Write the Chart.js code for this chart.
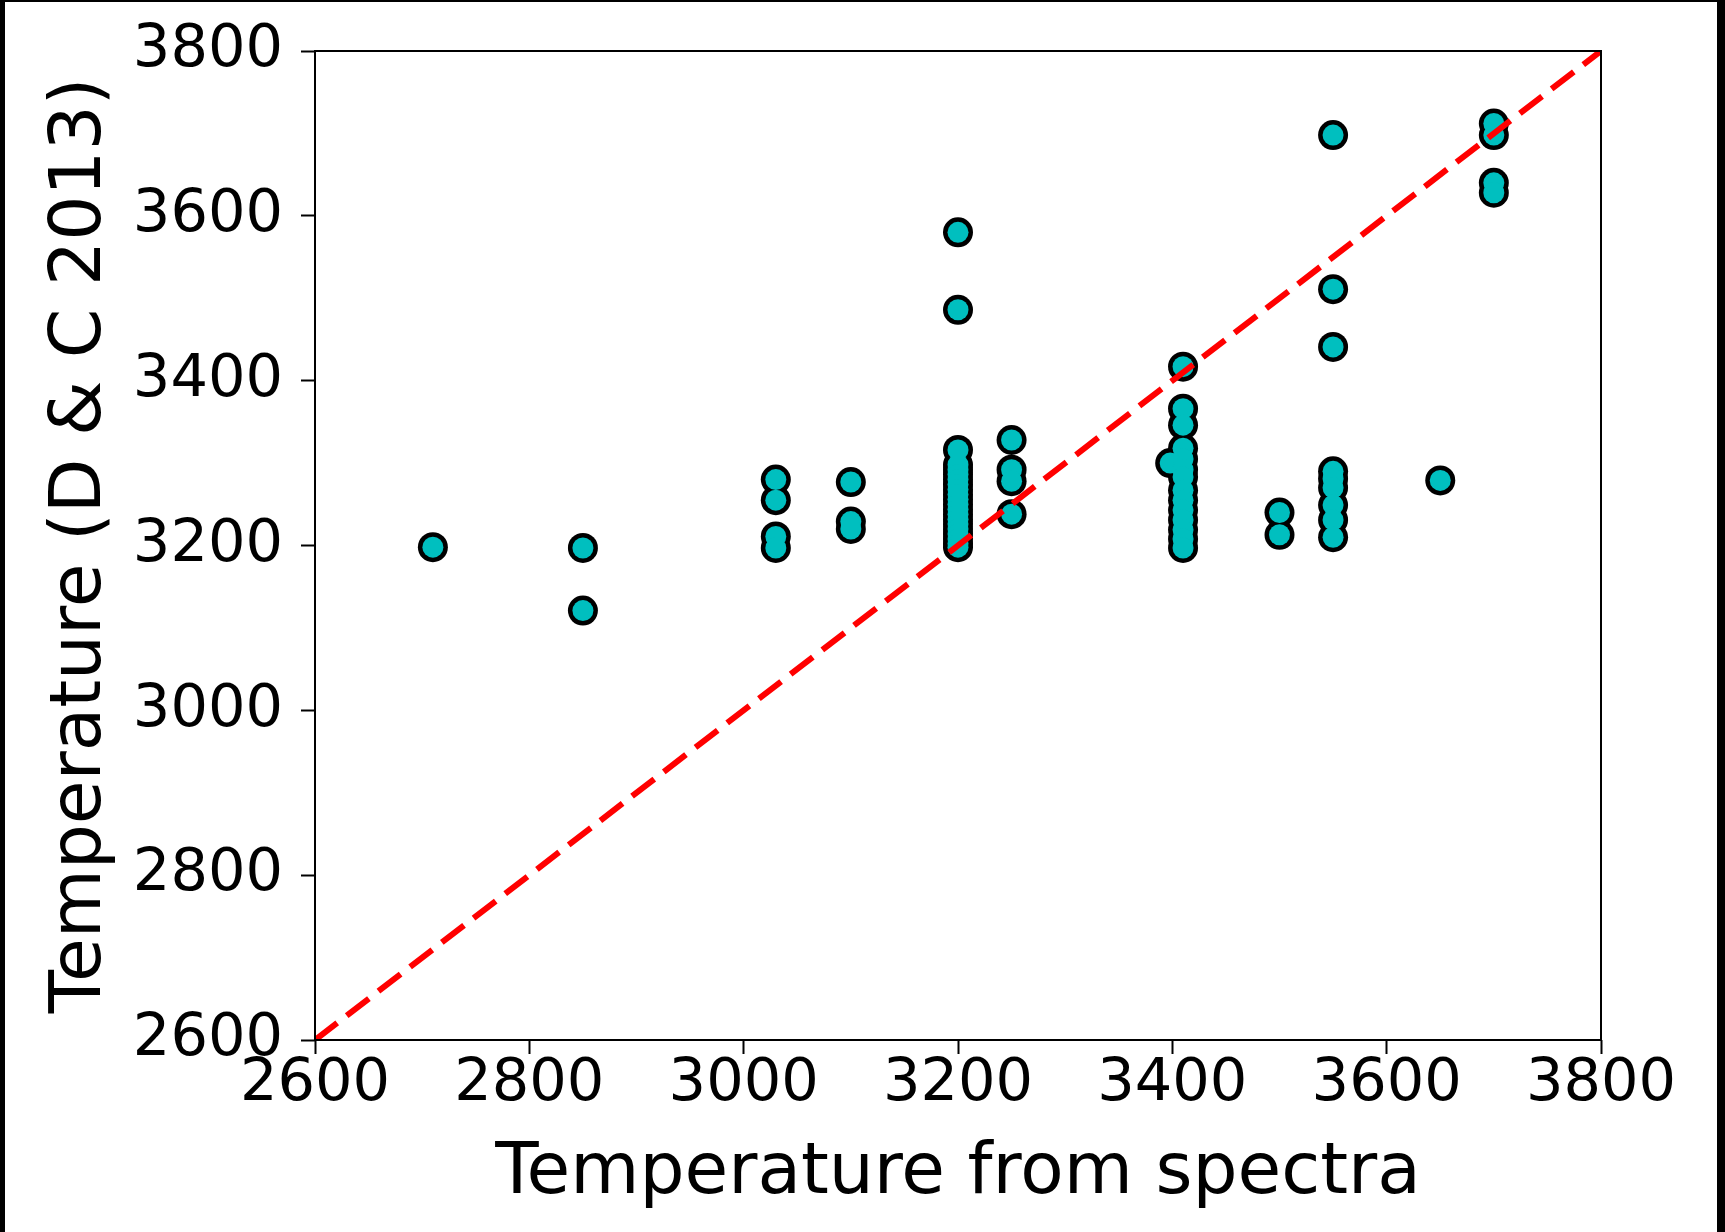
<!DOCTYPE html>
<html lang="en">
<head>
    <meta charset="UTF-8"/>
    <title>Temperature comparison</title>
    <script src="https://cdn.jsdelivr.net/npm/chart.js@4.4.1/dist/chart.umd.min.js"></script>
    <style>
        html, body { margin: 0; padding: 0; background: #000; }
        #wrap { position: absolute; left: 5px; top: 2px; width: 1712px; height: 1230px; background: #fff; }
    </style>
</head>
<body>

<div id="wrap">
    <canvas id="chart"></canvas>
</div>

<script>
    // temperatures, paired by index
    const specTemp = [
        2710,
        2850, 2850,
        3030, 3030, 3030, 3030,
        3100, 3100, 3100,
        3200, 3200,
        3200, 3200, 3200, 3200, 3200, 3200, 3200, 3200, 3200, 3200,
        3200, 3200, 3200, 3200, 3200, 3200, 3200, 3200, 3200,
        3250, 3250, 3250, 3250,
        3398,
        3410, 3410, 3410, 3410, 3410, 3410, 3410, 3410, 3410, 3410, 3410, 3410, 3410, 3410,
        3500, 3500,
        3550, 3550, 3550, 3550, 3550, 3550, 3550, 3550, 3550,
        3650,
        3700, 3700, 3700, 3700
    ];
    const dcTemp = [
        3198,
        3197, 3121,
        3280, 3255, 3211, 3197,
        3277, 3229, 3220,
        3580, 3486,
        3316, 3298, 3292, 3286, 3280, 3274, 3268, 3262, 3256, 3250,
        3244, 3238, 3232, 3226, 3220, 3214, 3208, 3202, 3198,
        3328, 3292, 3278, 3238,
        3300,
        3417, 3366, 3346, 3318, 3305, 3292, 3283, 3267, 3255, 3243, 3231, 3219, 3208, 3197,
        3240, 3213,
        3698, 3511, 3441, 3290, 3281, 3270, 3249, 3231, 3210,
        3279,
        3712, 3698, 3640, 3628
    ];
    const oneToOne = [2600, 3800];
    const xTickValues = [2600, 2800, 3000, 3200, 3400, 3600, 3800];
    const yTickValues = [2600, 2800, 3000, 3200, 3400, 3600, 3800];

    const points = specTemp.map((x, i) => ({x: x, y: dcTemp[i]}));
    const line = oneToOne.map(v => ({x: v, y: v}));

    const font = 'DejaVu Sans';

    // full box round the plot area
    const frame = {
        id: 'frame',
        afterDraw(chart) {
            const {ctx, chartArea: a} = chart;
            ctx.save();
            ctx.strokeStyle = '#000';
            ctx.lineWidth = 2;
            ctx.strokeRect(a.left, a.top, a.right - a.left, a.bottom - a.top);
            ctx.restore();
        }
    };

    new Chart(document.getElementById('chart'), {
        type: 'scatter',
        data: {
            datasets: [
                {
                    type: 'line',
                    data: line,
                    borderColor: '#ff0000',
                    borderWidth: 6,
                    borderDash: [28, 12],
                    pointRadius: 0,
                    fill: false,
                    order: 0
                },
                // cyan fill on top of a black disc, so touching markers merge
                {
                    data: points,
                    backgroundColor: '#00bfbf',
                    borderWidth: 0,
                    pointRadius: 10.5,
                    pointHoverRadius: 10.5,
                    order: 1
                },
                {
                    data: points,
                    backgroundColor: '#000',
                    borderWidth: 0,
                    pointRadius: 15,
                    pointHoverRadius: 15,
                    order: 2
                }
            ]
        },
        options: {
            responsive: true,
            maintainAspectRatio: false,
            animation: false,
            layout: {
                padding: {left: 0, top: 49, right: 116, bottom: 0}
            },
            plugins: {
                legend: {display: false},
                tooltip: {enabled: false}
            },
            scales: {
                x: {
                    type: 'linear',
                    min: 2600,
                    max: 3800,
                    afterBuildTicks: s => { s.ticks = xTickValues.map(v => ({value: v})); },
                    afterFit: s => { s.height = 192; },
                    border: {display: false},
                    grid: {
                        drawOnChartArea: false,
                        tickLength: 14,
                        tickWidth: 2,
                        tickColor: '#000'
                    },
                    ticks: {
                        color: '#000',
                        padding: -5,
                        maxRotation: 0,
                        callback: v => String(v),
                        font: {family: font, size: 59}
                    },
                    title: {
                        display: true,
                        text: 'Temperature from spectra',
                        color: '#000',
                        padding: {top: 0, bottom: 15},
                        font: {family: font, size: 71}
                    }
                },
                y: {
                    type: 'linear',
                    min: 2600,
                    max: 3800,
                    afterBuildTicks: s => { s.ticks = yTickValues.map(v => ({value: v})); },
                    afterFit: s => {
                        s.width = 310;
                        s.paddingTop = 0;
                        s.paddingBottom = 0;
                    },
                    border: {display: false},
                    grid: {
                        drawOnChartArea: false,
                        tickLength: 14,
                        tickWidth: 2,
                        tickColor: '#000'
                    },
                    ticks: {
                        color: '#000',
                        padding: 18,
                        callback: v => String(v),
                        font: {family: font, size: 59}
                    },
                    title: {
                        display: true,
                        text: 'Temperature (D & C 2013)',
                        color: '#000',
                        padding: {top: 34, bottom: 0},
                        font: {family: font, size: 71}
                    }
                }
            }
        },
        plugins: [frame]
    });
</script>

</body>
</html>
